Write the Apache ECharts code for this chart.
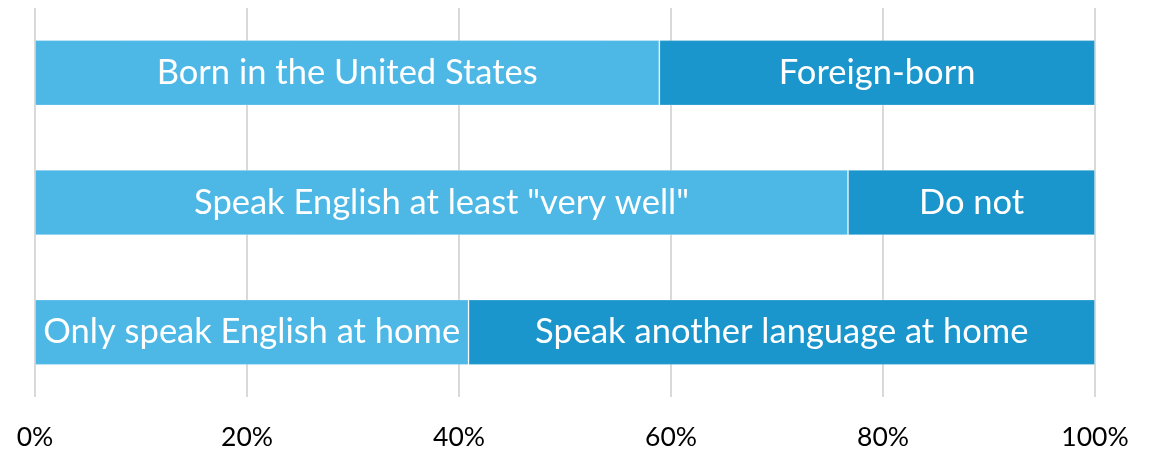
<!DOCTYPE html>
<html>
<head>
<meta charset="utf-8">
<script src="https://cdn.jsdelivr.net/npm/echarts@6/dist/echarts.min.js"></script>
<style>
  html, body { margin: 0; padding: 0; background: #fff; }
  #chart-container { width: 1158px; height: 452px; }
</style>
</head>
<body>
<div id="chart-container"></div>
<script>
// rows, top to bottom
const rows = ['Birthplace', 'English ability', 'Home language'];
const firstNames = ['Born in the United States', 'Speak English at least "very well"', 'Only speak English at home'];
const firstValues = [58.9, 76.7, 40.9];
const secondNames = ['Foreign-born', 'Do not', 'Speak another language at home'];
const secondValues = [41.1, 23.3, 59.1];
const xTicks = [0, 20, 40, 60, 80, 100];

const FONT = 'Lato, "Open Sans", sans-serif';

function buildSeries(color, values, names) {
  return {
    type: 'bar',
    stack: 'total',
    barWidth: '50.5%',
    itemStyle: {
      color,
      borderColor: 'rgba(255,255,255,0.25)',
      borderWidth: 1,
    },
    label: {
      show: true,
      position: 'inside',
      color: '#fff',
      fontFamily: FONT,
      fontSize: 34.5,
      formatter: (p) => names[p.dataIndex],
    },
    data: values,
  };
}

let option = {
  animation: false,
  grid: {
    left: 35,
    right: 63,
    top: 8,
    bottom: 55,
  },
  xAxis: {
    type: 'value',
    min: 0,
    max: 100,
    interval: 20,
    axisLine: { show: false },
    axisTick: { show: false },
    splitLine: {
      lineStyle: { color: '#d9d9d9', width: 2 },
    },
    axisLabel: {
      color: '#000',
      fontFamily: FONT,
      fontSize: 26.5,
      margin: 27,
      formatter: (v) => (xTicks.includes(v) ? v + '%' : ''),
    },
  },
  yAxis: {
    type: 'category',
    data: rows,
    inverse: true,
    show: false,
  },
  series: [
    buildSeries('#4db8e6', firstValues, firstNames),
    buildSeries('#1b96cc', secondValues, secondNames),
  ],
};

var myChart = echarts.init(document.getElementById('chart-container'));
myChart.setOption(option);
window.addEventListener('resize', myChart.resize);
</script>
</body>
</html>
